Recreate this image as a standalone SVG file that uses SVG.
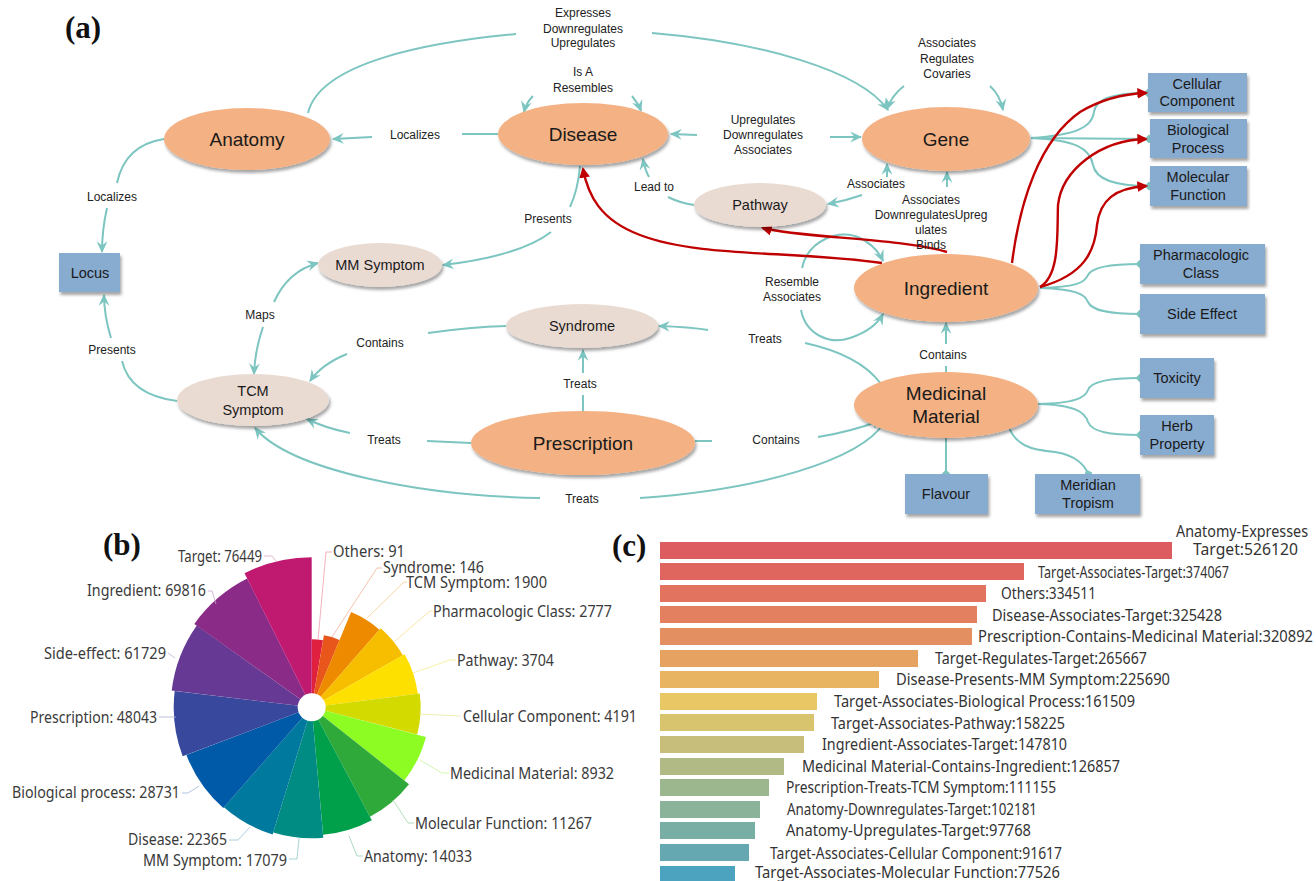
<svg xmlns="http://www.w3.org/2000/svg" width="1316" height="881" viewBox="0 0 1316 881">
<style>
.bg{fill:#fff}
.main{fill:#f4b183;filter:url(#sh)}
.light{fill:#eadbd2;filter:url(#sh)}
.box{fill:#88abd0;filter:url(#sh)}
.nt{font-family:"Liberation Sans",Arial,sans-serif;fill:#1a1a1a;text-anchor:middle}
.big{font-size:19px}
.mid{font-size:14.5px}
.el{font-family:"Liberation Sans",Arial,sans-serif;font-size:12px;fill:#222;text-anchor:middle}
.tl{fill:none;stroke:#7cc5c0;stroke-width:2}
.ta{marker-end:url(#ta)}
.td{marker-end:url(#td)}
.rd{fill:none;stroke:#c00000;stroke-width:2.4;marker-end:url(#ra)}
.pl{font-family:"Liberation Serif","Times New Roman",serif;font-weight:bold;font-size:31px;fill:#111}
.lb{font-family:"Noto Sans","Open Sans",sans-serif;font-size:17px;fill:#3a3a3a}
.ld{fill:none;stroke-width:0.8}
.bl{font-family:"Noto Sans","Open Sans",sans-serif;font-size:17px;fill:#333}
</style>
<defs>
<filter id="sh" x="-20%" y="-30%" width="140%" height="170%">
<feDropShadow dx="1.5" dy="3" stdDeviation="1.8" flood-color="#000" flood-opacity="0.35"/>
</filter>
<marker id="ta" viewBox="0 0 10 10" refX="9" refY="5" markerWidth="6" markerHeight="6" orient="auto">
<path d="M0,0.5 L10,5 L0,9.5 L3.5,5 Z" fill="#7cc5c0"/>
</marker>
<marker id="td" viewBox="0 0 10 10" refX="5" refY="5" markerWidth="4.5" markerHeight="4.5" orient="auto">
<path d="M0,5 L5,0 L10,5 L5,10 Z" fill="#7cc5c0"/>
</marker>
<marker id="ra" viewBox="0 0 10 10" refX="8" refY="5" markerWidth="4.5" markerHeight="4.5" orient="auto">
<path d="M0,0 L10,5 L0,10 Z" fill="#c00000"/>
</marker>
</defs>
<rect class="bg" x="0" y="0" width="1316" height="881"/>

<!-- Panel labels -->
<text class="pl" x="65" y="38">(a)</text>
<text class="pl" x="103" y="555">(b)</text>
<text class="pl" x="612" y="556">(c)</text>

<!-- Connectors -->
<g id="connectors">
<path class="tl" d="M308,113 C320,62 430,42 516,34"/>
<path class="tl ta" d="M652,33 C760,42 860,70 888,110"/>
<path class="tl" d="M498,134 L462,134"/>
<path class="tl ta" d="M372,137 L333,139"/>
<path class="tl ta" d="M533,96 Q526,103 524,112"/>
<path class="tl ta" d="M632,96 Q638,103 641,111"/>
<path class="tl ta" d="M697,135 L671,134"/>
<path class="tl ta" d="M830,137 L861,137"/>
<path class="tl ta" d="M904,86 Q892,95 887,109"/>
<path class="tl ta" d="M990,86 Q1000,95 1003,110"/>
<path class="tl" d="M694,205 Q680,203 668,197"/>
<path class="tl ta" d="M649,177 Q645,170 643,159"/>
<path class="tl ta" d="M862,195 Q845,201 828,204"/>
<path class="tl ta" d="M887,177 L887,164"/>
<path class="tl ta" d="M947,187 L947,172"/>
<path class="tl" d="M580,166 Q578,190 570,207"/>
<path class="tl ta" d="M551,232 Q520,256 443,265"/>
<path class="tl" d="M164,139 Q125,145 117,183"/>
<path class="tl ta" d="M107,208 Q102,230 102,252"/>
<path class="tl" d="M177,401 Q130,395 122,361"/>
<path class="tl ta" d="M111,338 Q104,315 104,295"/>
<path class="tl ta" d="M274,302 Q288,271 318,263"/>
<path class="tl ta" d="M263,327 Q255,350 254,374"/>
<path class="tl" d="M506,326 Q470,327 428,333"/>
<path class="tl ta" d="M347,354 Q322,364 310,381"/>
<path class="tl" d="M881,384 Q860,355 805,343"/>
<path class="tl ta" d="M708,330 Q690,327 659,326"/>
<path class="tl ta" d="M802,268 C808,240 840,228 860,238 C872,244 879,252 883,261"/>
<path class="tl ta" d="M801,310 C806,335 830,345 850,338 C865,333 877,325 883,314"/>
<path class="tl" d="M946,372 L946,366"/>
<path class="tl ta" d="M946,344 L946,323"/>
<path class="tl" d="M583,411 L583,395"/>
<path class="tl ta" d="M583,373 L583,350"/>
<path class="tl" d="M471,443 L427,441"/>
<path class="tl ta" d="M350,433 Q325,428 307,419"/>
<path class="tl" d="M695,441 L712,441"/>
<path class="tl ta" d="M818,437 Q850,432 882,420"/>
<path class="tl" d="M884,423 C860,460 760,490 640,498"/>
<path class="tl ta" d="M540,498 C420,496 290,470 255,428"/>
<path class="tl td" d="M1031,138 C1075,135 1092,128 1094,112 C1096,98 1115,93 1148,93"/>
<path class="tl td" d="M1031,138 L1149,139"/>
<path class="tl td" d="M1031,138 C1075,140 1090,148 1093,165 C1096,180 1115,186 1149,186"/>
<path class="tl td" d="M1040,288 C1075,287 1085,283 1088,275 C1092,267 1110,264 1140,264"/>
<path class="tl td" d="M1040,288 C1075,289 1085,294 1088,302 C1092,311 1110,314 1140,314"/>
<path class="tl td" d="M1038,404 C1075,403 1085,398 1088,390 C1091,381 1110,378 1140,378"/>
<path class="tl td" d="M1038,404 C1075,405 1085,412 1088,422 C1092,432 1110,435 1140,435"/>
<path class="tl td" d="M946,438 L946,474"/>
<path class="tl td" d="M1008,425 C1015,445 1030,450 1055,452 C1075,455 1085,465 1088,474"/>
<path class="rd" d="M882,263 C790,250 700,258 640,235 C600,220 588,195 583,169"/>
<path class="rd" d="M947,252 C900,238 800,238 763,228"/>
<path class="rd" d="M1012,263 C1020,200 1040,140 1080,112 C1100,100 1120,94 1146,93"/>
<path class="rd" d="M1040,287 C1060,275 1057,235 1058,205 C1062,170 1100,140 1146,139"/>
<path class="rd" d="M1040,287 C1085,275 1095,250 1097,225 C1100,200 1115,188 1146,186"/>
</g>

<!-- Edge labels -->
<g id="edge-labels">
<text class="el" x="583" y="17">Expresses</text>
<text class="el" x="583" y="33">Downregulates</text>
<text class="el" x="583" y="47">Upregulates</text>
<text class="el" x="583" y="76">Is A</text>
<text class="el" x="583" y="92">Resembles</text>
<text class="el" x="415" y="139">Localizes</text>
<text class="el" x="763" y="124">Upregulates</text>
<text class="el" x="763" y="139">Downregulates</text>
<text class="el" x="763" y="154">Associates</text>
<text class="el" x="947" y="47">Associates</text>
<text class="el" x="947" y="63">Regulates</text>
<text class="el" x="947" y="78">Covaries</text>
<text class="el" x="654" y="191">Lead to</text>
<text class="el" x="876" y="188">Associates</text>
<text class="el" x="931" y="204">Associates</text>
<text class="el" x="931" y="219">DownregulatesUpreg</text>
<text class="el" x="931" y="234">ulates</text>
<text class="el" x="931" y="249">Binds</text>
<text class="el" x="112" y="201">Localizes</text>
<text class="el" x="548" y="223">Presents</text>
<text class="el" x="260" y="319">Maps</text>
<text class="el" x="112" y="354">Presents</text>
<text class="el" x="380" y="347">Contains</text>
<text class="el" x="765" y="343">Treats</text>
<text class="el" x="792" y="286">Resemble</text>
<text class="el" x="792" y="301">Associates</text>
<text class="el" x="943" y="359">Contains</text>
<text class="el" x="580" y="388">Treats</text>
<text class="el" x="384" y="444">Treats</text>
<text class="el" x="776" y="444">Contains</text>
<text class="el" x="582" y="503">Treats</text>
</g>

<!-- Nodes -->
<g id="anatomy"><ellipse class="main" cx="247" cy="139" rx="83" ry="31"/><text class="nt big" x="247" y="146">Anatomy</text></g>
<g id="disease"><ellipse class="main" cx="583" cy="134" rx="85" ry="31"/><text class="nt big" x="583" y="141">Disease</text></g>
<g id="gene"><ellipse class="main" cx="946" cy="139" rx="84" ry="32"/><text class="nt big" x="946" y="146">Gene</text></g>
<g id="pathway"><ellipse class="light" cx="760" cy="205" rx="66" ry="22"/><text class="nt mid" x="760" y="210">Pathway</text></g>
<g id="mm-symptom"><ellipse class="light" cx="380" cy="265" rx="62" ry="22"/><text class="nt mid" x="380" y="270">MM Symptom</text></g>
<g id="syndrome"><ellipse class="light" cx="582" cy="326" rx="76" ry="22"/><text class="nt mid" x="582" y="331">Syndrome</text></g>
<g id="tcm-symptom"><ellipse class="light" cx="253" cy="400" rx="76" ry="26"/><text class="nt mid" x="253" y="396">TCM</text><text class="nt mid" x="253" y="415">Symptom</text></g>
<g id="prescription"><ellipse class="main" cx="583" cy="443" rx="112" ry="32"/><text class="nt big" x="583" y="450">Prescription</text></g>
<g id="ingredient"><ellipse class="main" cx="946" cy="288" rx="92" ry="34"/><text class="nt big" x="946" y="295">Ingredient</text></g>
<g id="medicinal-material"><ellipse class="main" cx="946" cy="405" rx="92" ry="33"/><text class="nt big" x="946" y="400">Medicinal</text><text class="nt big" x="946" y="423">Material</text></g>

<g id="locus"><rect class="box" x="59" y="253" width="61" height="39"/><text class="nt mid" x="90" y="278">Locus</text></g>
<g id="cellular-component"><rect class="box" x="1148" y="73" width="99" height="39"/><text class="nt mid" x="1197" y="89">Cellular</text><text class="nt mid" x="1197" y="106">Component</text></g>
<g id="biological-process"><rect class="box" x="1150" y="119" width="97" height="39"/><text class="nt mid" x="1198" y="135">Biological</text><text class="nt mid" x="1198" y="153">Process</text></g>
<g id="molecular-function"><rect class="box" x="1150" y="166" width="97" height="40"/><text class="nt mid" x="1198" y="182">Molecular</text><text class="nt mid" x="1198" y="200">Function</text></g>
<g id="pharmacologic-class"><rect class="box" x="1140" y="244" width="125" height="40"/><text class="nt mid" x="1201" y="260">Pharmacologic</text><text class="nt mid" x="1201" y="278">Class</text></g>
<g id="side-effect"><rect class="box" x="1140" y="294" width="125" height="40"/><text class="nt mid" x="1202" y="319">Side Effect</text></g>
<g id="toxicity"><rect class="box" x="1140" y="358" width="74" height="40"/><text class="nt mid" x="1177" y="383">Toxicity</text></g>
<g id="herb-property"><rect class="box" x="1140" y="415" width="74" height="40"/><text class="nt mid" x="1177" y="431">Herb</text><text class="nt mid" x="1177" y="449">Property</text></g>
<g id="flavour"><rect class="box" x="905" y="474" width="83" height="40"/><text class="nt mid" x="946" y="499">Flavour</text></g>
<g id="meridian-tropism"><rect class="box" x="1035" y="474" width="105" height="40"/><text class="nt mid" x="1088" y="490">Meridian</text><text class="nt mid" x="1088" y="508">Tropism</text></g>

<!-- Panel (b): rose chart -->
<g id="rose-chart">
<path fill="#e0203f" d="M311.7,707.3 L311.7,639.3 A68,68 0 0 1 323.0,640.3 Z"/>
<path fill="#e8561c" d="M311.7,707.3 L323.9,635.3 A73,73 0 0 1 339.6,639.9 Z"/>
<path fill="#ee8a00" d="M311.7,707.3 L351.1,612.1 A103,103 0 0 1 379.4,629.7 Z"/>
<path fill="#f7be00" d="M311.7,707.3 L380.7,628.2 A105,105 0 0 1 402.9,655.3 Z"/>
<path fill="#fde000" d="M311.7,707.3 L404.6,654.3 A107,107 0 0 1 417.8,693.7 Z"/>
<path fill="#d2da00" d="M311.7,707.3 L419.8,693.4 A109,109 0 0 1 417.2,734.6 Z"/>
<path fill="#8cfc22" d="M311.7,707.3 L425.9,736.9 A118,118 0 0 1 404.3,780.4 Z"/>
<path fill="#2fa93a" d="M311.7,707.3 L409.0,784.2 A124,124 0 0 1 369.9,816.8 Z"/>
<path fill="#00a04a" d="M311.7,707.3 L371.8,820.3 A128,128 0 0 1 323.1,834.8 Z"/>
<path fill="#008c82" d="M311.7,707.3 L323.3,837.8 A131,131 0 0 1 273.2,832.5 Z"/>
<path fill="#00799e" d="M311.7,707.3 L272.6,834.4 A133,133 0 0 1 223.9,807.2 Z"/>
<path fill="#005aa8" d="M311.7,707.3 L223.3,808.0 A134,134 0 0 1 186.4,754.9 Z"/>
<path fill="#38489c" d="M311.7,707.3 L182.7,756.3 A138,138 0 0 1 174.7,691.0 Z"/>
<path fill="#663a94" d="M311.7,707.3 L171.7,690.6 A141,141 0 0 1 196.8,625.6 Z"/>
<path fill="#8a2b88" d="M311.7,707.3 L194.3,623.9 A144,144 0 0 1 247.2,578.5 Z"/>
<path fill="#c01a70" d="M311.7,707.3 L244.5,573.2 A150,150 0 0 1 311.7,557.3 Z"/>
<circle cx="311.7" cy="707.3" r="14" fill="#fff"/>
<polyline class="ld" stroke="#f0a0ae" points="318,640 326,552 332,552"/>
<polyline class="ld" stroke="#f2b29a" points="332,637 377,568 382,568"/>
<polyline class="ld" stroke="#f5cc8a" points="367,618 404,582 407,582"/>
<polyline class="ld" stroke="#f8de90" points="395,641 430,611 433,611"/>
<polyline class="ld" stroke="#f9ec90" points="413,673 450,660 456,660"/>
<polyline class="ld" stroke="#e8e89a" points="419,714 460,716"/>
<polyline class="ld" stroke="#c8f4a0" points="420,760 442,773 449,773"/>
<polyline class="ld" stroke="#a0d4a8" points="393,800 408,823 414,823"/>
<polyline class="ld" stroke="#98d0b0" points="349,836 357,856 363,856"/>
<polyline class="ld" stroke="#90ccc8" points="299,838 297,859 289,859"/>
<polyline class="ld" stroke="#98c4d4" points="250,827 238,840 229,840"/>
<polyline class="ld" stroke="#a0b4d8" points="199,786 188,793 182,793"/>
<polyline class="ld" stroke="#a8aed0" points="176,717 159,717"/>
<polyline class="ld" stroke="#c0aed4" points="175,658 168,653"/>
<polyline class="ld" stroke="#c8a8cc" points="216,604 212,591 208,591"/>
<polyline class="ld" stroke="#e0a8c4" points="264,556 272,556 276,561"/>
<text class="lb" x="333" y="557" textLength="72" lengthAdjust="spacingAndGlyphs">Others: 91</text>
<text class="lb" x="383" y="573" textLength="101" lengthAdjust="spacingAndGlyphs">Syndrome: 146</text>
<text class="lb" x="406" y="588" textLength="141" lengthAdjust="spacingAndGlyphs">TCM Symptom: 1900</text>
<text class="lb" x="433" y="617" textLength="179" lengthAdjust="spacingAndGlyphs">Pharmacologic Class: 2777</text>
<text class="lb" x="457" y="666" textLength="97" lengthAdjust="spacingAndGlyphs">Pathway: 3704</text>
<text class="lb" x="463" y="722" textLength="174" lengthAdjust="spacingAndGlyphs">Cellular Component: 4191</text>
<text class="lb" x="450" y="779" textLength="164" lengthAdjust="spacingAndGlyphs">Medicinal Material: 8932</text>
<text class="lb" x="415" y="829" textLength="177" lengthAdjust="spacingAndGlyphs">Molecular Function: 11267</text>
<text class="lb" x="364" y="862" textLength="108" lengthAdjust="spacingAndGlyphs">Anatomy: 14033</text>
<text class="lb" x="143" y="866" textLength="144" lengthAdjust="spacingAndGlyphs">MM Symptom: 17079</text>
<text class="lb" x="128" y="845" textLength="99" lengthAdjust="spacingAndGlyphs">Disease: 22365</text>
<text class="lb" x="12" y="798" textLength="168" lengthAdjust="spacingAndGlyphs">Biological process: 28731</text>
<text class="lb" x="30" y="723" textLength="127" lengthAdjust="spacingAndGlyphs">Prescription: 48043</text>
<text class="lb" x="44" y="659" textLength="122" lengthAdjust="spacingAndGlyphs">Side-effect: 61729</text>
<text class="lb" x="87" y="596" textLength="119" lengthAdjust="spacingAndGlyphs">Ingredient: 69816</text>
<text class="lb" x="178" y="562" textLength="84" lengthAdjust="spacingAndGlyphs">Target: 76449</text>
</g>

<!-- Panel (c): bar chart -->
<g id="bar-chart">
<rect x="660" y="542" width="512" height="17" fill="#dc5c60"/>
<rect x="660" y="563" width="364" height="17" fill="#df665f"/>
<rect x="660" y="585" width="326" height="17" fill="#e1735f"/>
<rect x="660" y="606" width="317" height="17" fill="#e28060"/>
<rect x="660" y="628" width="312" height="17" fill="#e48f62"/>
<rect x="660" y="650" width="258" height="17" fill="#e6a261"/>
<rect x="660" y="671" width="219" height="17" fill="#e8b462"/>
<rect x="660" y="693" width="157" height="17" fill="#e9c764"/>
<rect x="660" y="714" width="154" height="17" fill="#d8c46e"/>
<rect x="660" y="736" width="144" height="17" fill="#c6be7a"/>
<rect x="660" y="758" width="124" height="17" fill="#b1b984"/>
<rect x="660" y="779" width="109" height="17" fill="#9cb78d"/>
<rect x="660" y="801" width="100" height="17" fill="#8ab39a"/>
<rect x="660" y="822" width="95" height="17" fill="#79aea4"/>
<rect x="660" y="844" width="89" height="17" fill="#65a8b2"/>
<rect x="660" y="866" width="75" height="17" fill="#4ca3c0"/>
<text class="bl" x="1176" y="537" textLength="132" lengthAdjust="spacingAndGlyphs">Anatomy-Expresses</text>
<text class="bl" x="1193" y="555" textLength="105" lengthAdjust="spacingAndGlyphs">Target:526120</text>
<text class="bl" x="1038" y="578" textLength="191" lengthAdjust="spacingAndGlyphs">Target-Associates-Target:374067</text>
<text class="bl" x="1001" y="599" textLength="95" lengthAdjust="spacingAndGlyphs">Others:334511</text>
<text class="bl" x="992" y="621" textLength="230" lengthAdjust="spacingAndGlyphs">Disease-Associates-Target:325428</text>
<text class="bl" x="978" y="642" textLength="335" lengthAdjust="spacingAndGlyphs">Prescription-Contains-Medicinal Material:320892</text>
<text class="bl" x="935" y="664" textLength="212" lengthAdjust="spacingAndGlyphs">Target-Regulates-Target:265667</text>
<text class="bl" x="896" y="685" textLength="274" lengthAdjust="spacingAndGlyphs">Disease-Presents-MM Symptom:225690</text>
<text class="bl" x="834" y="707" textLength="301" lengthAdjust="spacingAndGlyphs">Target-Associates-Biological Process:161509</text>
<text class="bl" x="831" y="729" textLength="234" lengthAdjust="spacingAndGlyphs">Target-Associates-Pathway:158225</text>
<text class="bl" x="822" y="750" textLength="245" lengthAdjust="spacingAndGlyphs">Ingredient-Associates-Target:147810</text>
<text class="bl" x="802" y="772" textLength="318" lengthAdjust="spacingAndGlyphs">Medicinal Material-Contains-Ingredient:126857</text>
<text class="bl" x="786" y="793" textLength="270" lengthAdjust="spacingAndGlyphs">Prescription-Treats-TCM Symptom:111155</text>
<text class="bl" x="787" y="815" textLength="250" lengthAdjust="spacingAndGlyphs">Anatomy-Downregulates-Target:102181</text>
<text class="bl" x="786" y="836" textLength="245" lengthAdjust="spacingAndGlyphs">Anatomy-Upregulates-Target:97768</text>
<text class="bl" x="770" y="859" textLength="292" lengthAdjust="spacingAndGlyphs">Target-Associates-Cellular Component:91617</text>
<text class="bl" x="755" y="878" textLength="305" lengthAdjust="spacingAndGlyphs">Target-Associates-Molecular Function:77526</text>
</g>
</svg>
